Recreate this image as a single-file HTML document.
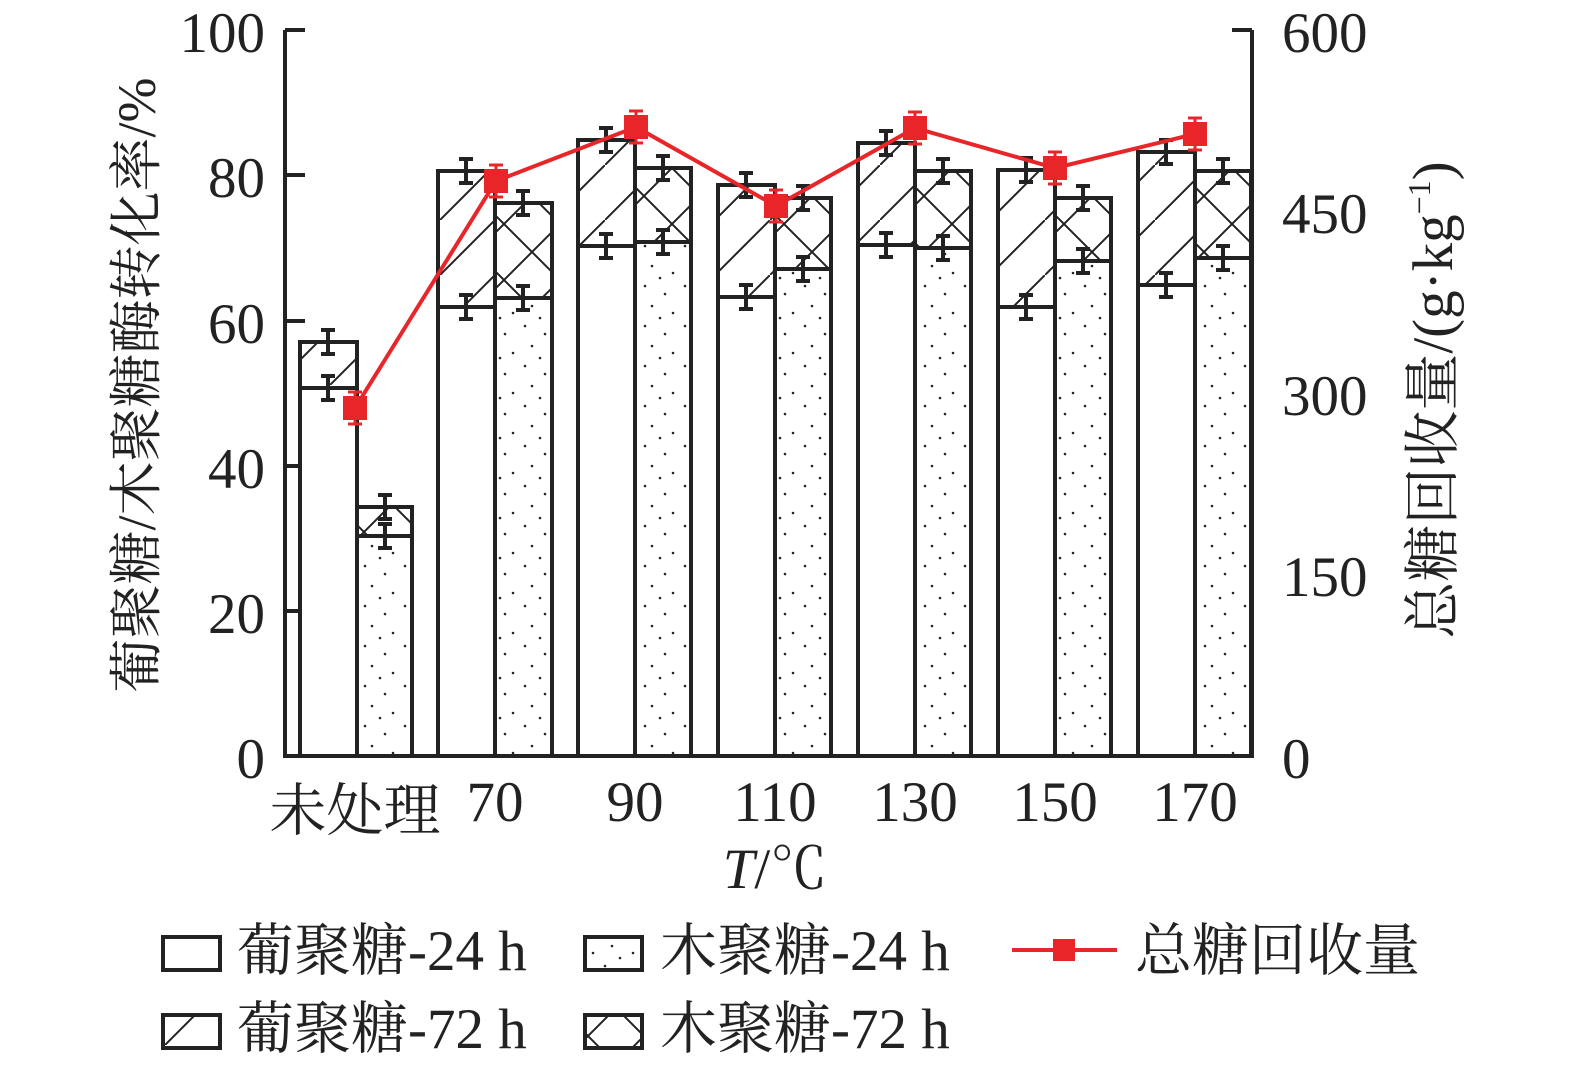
<!DOCTYPE html><html><head><meta charset="utf-8"><style>body{margin:0;background:#fff}svg{display:block}text{font-family:"Liberation Serif","Noto Serif CJK SC",serif;fill:#222}</style></head><body>
<svg width="1575" height="1075" viewBox="0 0 1575 1075" xmlns="http://www.w3.org/2000/svg">
<defs>
<pattern id="diag" patternUnits="userSpaceOnUse" width="55" height="55"><path d="M-5,60 L60,-5" stroke="#222" stroke-width="2"/></pattern>
<pattern id="cross" patternUnits="userSpaceOnUse" width="56" height="56"><path d="M0,56 L56,0 M0,0 L56,56" stroke="#222" stroke-width="2"/></pattern>
<pattern id="dots" patternUnits="userSpaceOnUse" width="40" height="40"><rect width="40" height="40" fill="#fff"/><circle cx="5" cy="6" r="1.3" fill="#222"/><circle cx="25" cy="14" r="1.3" fill="#222"/><circle cx="12" cy="26" r="1.3" fill="#222"/><circle cx="33" cy="33" r="1.3" fill="#222"/><circle cx="20" cy="38" r="1.3" fill="#222"/></pattern>
</defs>
<g stroke="#222" stroke-width="4" fill="none">
<line x1="285" y1="30" x2="285" y2="757"/>
<line x1="283" y1="756" x2="1254" y2="756"/>
<line x1="1252" y1="30" x2="1252" y2="757"/>
<path d="M285 30h20M285 175h20M285 321h20M285 466h20M285 611h20"/>
<path d="M1252 30h-20M1252 211h-20M1252 393h-20M1252 574h-20"/>
</g>
<g stroke="#222" stroke-width="4">
<rect x="300" y="342" width="57" height="414" fill="#fff"/><rect x="300" y="342" width="57" height="46" fill="url(#diag)"/>
<rect x="357" y="507" width="55" height="249" fill="url(#dots)"/><rect x="357" y="507" width="55" height="29" fill="#fff"/><rect x="357" y="507" width="55" height="29" fill="url(#cross)"/>
<rect x="438" y="171" width="57" height="585" fill="#fff"/><rect x="438" y="171" width="57" height="136" fill="url(#diag)"/>
<rect x="495" y="203" width="57" height="553" fill="url(#dots)"/><rect x="495" y="203" width="57" height="95" fill="#fff"/><rect x="495" y="203" width="57" height="95" fill="url(#cross)"/>
<rect x="578" y="140" width="57" height="616" fill="#fff"/><rect x="578" y="140" width="57" height="106" fill="url(#diag)"/>
<rect x="635" y="168" width="56" height="588" fill="url(#dots)"/><rect x="635" y="168" width="56" height="74" fill="#fff"/><rect x="635" y="168" width="56" height="74" fill="url(#cross)"/>
<rect x="718" y="185" width="57" height="571" fill="#fff"/><rect x="718" y="185" width="57" height="112" fill="url(#diag)"/>
<rect x="775" y="198" width="56" height="558" fill="url(#dots)"/><rect x="775" y="198" width="56" height="71" fill="#fff"/><rect x="775" y="198" width="56" height="71" fill="url(#cross)"/>
<rect x="858" y="143" width="57" height="613" fill="#fff"/><rect x="858" y="143" width="57" height="102" fill="url(#diag)"/>
<rect x="915" y="171" width="56" height="585" fill="url(#dots)"/><rect x="915" y="171" width="56" height="77" fill="#fff"/><rect x="915" y="171" width="56" height="77" fill="url(#cross)"/>
<rect x="998" y="170" width="57" height="586" fill="#fff"/><rect x="998" y="170" width="57" height="137" fill="url(#diag)"/>
<rect x="1055" y="198" width="56" height="558" fill="url(#dots)"/><rect x="1055" y="198" width="56" height="63" fill="#fff"/><rect x="1055" y="198" width="56" height="63" fill="url(#cross)"/>
<rect x="1138" y="152" width="57" height="604" fill="#fff"/><rect x="1138" y="152" width="57" height="133" fill="url(#diag)"/>
<rect x="1195" y="171" width="56" height="585" fill="url(#dots)"/><rect x="1195" y="171" width="56" height="87" fill="#fff"/><rect x="1195" y="171" width="56" height="87" fill="url(#cross)"/>
</g>
<path fill="none" stroke="#222" stroke-width="4" d="
M321 376h14M321 400h14M328 376v24 M321 330h14M321 354h14M328 330v24
M378 524h14M378 548h14M385 524v24 M378 495h14M378 519h14M385 495v24
M459 295h14M459 319h14M466 295v24 M459 159h14M459 183h14M466 159v24
M516 286h14M516 310h14M523 286v24 M516 191h14M516 215h14M523 191v24
M599 234h14M599 258h14M606 234v24 M599 128h14M599 152h14M606 128v24
M656 230h14M656 254h14M663 230v24 M656 156h14M656 180h14M663 156v24
M739 285h14M739 309h14M746 285v24 M739 173h14M739 197h14M746 173v24
M796 257h14M796 281h14M803 257v24 M796 186h14M796 210h14M803 186v24
M879 233h14M879 257h14M886 233v24 M879 131h14M879 155h14M886 131v24
M936 236h14M936 260h14M943 236v24 M936 159h14M936 183h14M943 159v24
M1019 295h14M1019 319h14M1026 295v24 M1019 158h14M1019 182h14M1026 158v24
M1076 249h14M1076 273h14M1083 249v24 M1076 186h14M1076 210h14M1083 186v24
M1159 273h14M1159 297h14M1166 273v24 M1159 140h14M1159 164h14M1166 140v24
M1216 246h14M1216 270h14M1223 246v24 M1216 159h14M1216 183h14M1223 159v24"/>
<polyline points="355,408 496,181 636,127 776,206 915,128 1055,168 1195,134" fill="none" stroke="#e8262a" stroke-width="4"/>
<path fill="none" stroke="#e8262a" stroke-width="3" d="M348 392h14M348 424h14M355 392v32 M489 165h14M489 197h14M496 165v32 M629 111h14M629 143h14M636 111v32 M769 190h14M769 222h14M776 190v32 M908 112h14M908 144h14M915 112v32 M1048 152h14M1048 184h14M1055 152v32 M1188 118h14M1188 150h14M1195 118v32"/>
<g fill="#e8262a">
<rect x="343" y="396" width="24" height="24"/><rect x="484" y="169" width="24" height="24"/><rect x="624" y="115" width="24" height="24"/><rect x="764" y="194" width="24" height="24"/><rect x="903" y="116" width="24" height="24"/><rect x="1043" y="156" width="24" height="24"/><rect x="1183" y="122" width="24" height="24"/>
</g>
<g font-size="57">
<text x="265" y="52" text-anchor="end">100</text>
<text x="265" y="197" text-anchor="end">80</text>
<text x="265" y="343" text-anchor="end">60</text>
<text x="265" y="488" text-anchor="end">40</text>
<text x="265" y="633" text-anchor="end">20</text>
<text x="265" y="778" text-anchor="end">0</text>
<text x="1282" y="52">600</text>
<text x="1282" y="233">450</text>
<text x="1282" y="415">300</text>
<text x="1282" y="596">150</text>
<text x="1282" y="778">0</text>
<text x="355" y="830" text-anchor="middle">未处理</text>
<text x="495" y="821" text-anchor="middle">70</text>
<text x="635" y="821" text-anchor="middle">90</text>
<text x="775" y="821" text-anchor="middle">110</text>
<text x="915" y="821" text-anchor="middle">130</text>
<text x="1055" y="821" text-anchor="middle">150</text>
<text x="1195" y="821" text-anchor="middle">170</text>
<text x="775" y="888" text-anchor="middle"><tspan font-style="italic">T</tspan>/℃</text>
<text transform="translate(155,385) rotate(-90)" text-anchor="middle" font-size="54">葡聚糖/木聚糖酶转化率/%</text>
<text transform="translate(1452,400) rotate(-90)" text-anchor="middle">总糖回收量/(g·kg<tspan font-size="32" dy="-22">−1</tspan><tspan dy="22">)</tspan></text>
<text x="237" y="970">葡聚糖-24 h</text>
<text x="660" y="970">木聚糖-24 h</text>
<text x="1135" y="970">总糖回收量</text>
<text x="237" y="1048">葡聚糖-72 h</text>
<text x="660" y="1048">木聚糖-72 h</text>
</g>
<g stroke="#222" stroke-width="4">
<rect x="163" y="937" width="57" height="33" fill="#fff"/>
<rect x="585" y="937" width="57" height="33" fill="url(#dots)"/>
<rect x="163" y="1015" width="57" height="33" fill="url(#diag)"/>
<rect x="585" y="1015" width="57" height="33" fill="url(#cross)"/>
</g>
<line x1="1012" y1="950" x2="1117" y2="950" stroke="#e8262a" stroke-width="4"/>
<rect x="1053" y="939" width="22" height="22" fill="#e8262a"/>
</svg></body></html>
